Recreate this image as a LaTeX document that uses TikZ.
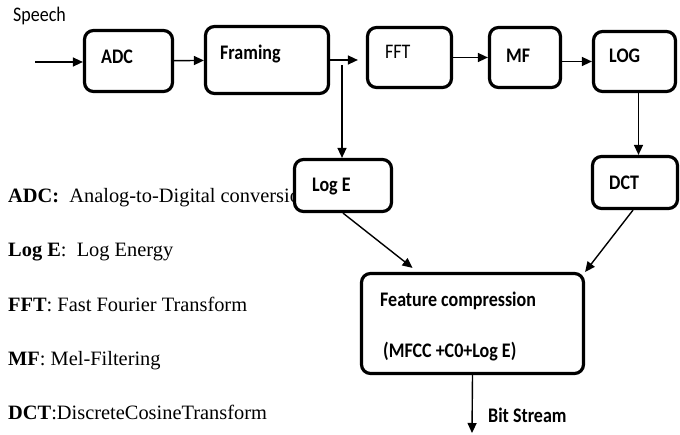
\documentclass[tikz,border=0pt]{standalone}
\usepackage{graphicx}
\usepackage{fontspec}
\setmainfont{Liberation Serif}
\newfontfamily\boxfont{Carlito}
\usetikzlibrary{arrows.meta}

% box labels are set slightly taller than the font's natural shape
\newcommand{\tallbox}[1]{\scalebox{1}[1.15]{#1}}

\begin{document}
\begin{tikzpicture}[x=1pt,y=-1pt,
  blk/.style={draw, line width=3.2pt, rounded corners=9pt, fill=white, inner sep=0pt},
  flow/.style={line width=1.4pt, -{Triangle[length=10pt,width=9pt]}},
  lbl/.style={font=\boxfont\bfseries\fontsize{18}{20}\selectfont, anchor=base west, inner sep=0pt},
  plain/.style={font=\boxfont\fontsize{18}{20}\selectfont, anchor=base west, inner sep=0pt},
  leg/.style={font=\fontsize{20.4}{22}\selectfont, anchor=base west, inner sep=0pt}]

\useasboundingbox (0,0) rectangle (680,435);

% glossary of abbreviations
\node[leg] (g1) at (8,203) {\textbf{ADC:}\ \ Analog-to-Digital conversion};
\node[leg] (g2) at (8,257) {\textbf{Log E}:\ \ Log Energy};
\node[leg] (g3) at (8,312) {\textbf{FFT}: Fast Fourier Transform};
\node[leg] (g4) at (8,366) {\textbf{MF}: Mel-Filtering};
\node[leg] (g5) at (8,420) {\textbf{DCT}:DiscreteCosineTransform};

% processing blocks
\node[blk, minimum width=88pt, minimum height=61pt] (adc) at (128.5,61) {};
\node[blk, minimum width=123pt, minimum height=67pt] (fram) at (267,60) {};
\node[blk, minimum width=84pt, minimum height=60pt] (fft) at (409.5,57.5) {};
\node[blk, minimum width=71pt, minimum height=60pt] (mf) at (525,57.5) {};
\node[blk, minimum width=82pt, minimum height=60pt] (log) at (634.5,61.5) {};
\node[blk, minimum width=97pt, minimum height=52pt] (loge) at (343,185.5) {};
\node[blk, minimum width=85pt, minimum height=52pt] (dct) at (635,182.5) {};
\node[blk, minimum width=222pt, minimum height=100pt] (fc) at (472.5,323.5) {};

% block labels
\node[plain] (tspeech) at (13,22) {\tallbox{Speech}};
\node[lbl] (tadc) at (101,64) {\tallbox{ADC}};
\node[lbl] (tfram) at (220,60) {\tallbox{Framing}};
\node[plain] (tfft) at (385,59) {\tallbox{FFT}};
\node[lbl] (tmf) at (506,63) {\tallbox{MF}};
\node[lbl] (tlog) at (609,63) {\tallbox{LOG}};
\node[lbl] (tloge) at (312,192) {\tallbox{Log E}};
\node[lbl] (tdct) at (609,190) {\tallbox{DCT}};
\node[lbl] (tfc1) at (380,307) {\tallbox{Feature compression}};
\node[lbl] (tfc2) at (383,358) {\tallbox{(MFCC +C0+Log E)}};
\node[lbl] (tbit) at (488,422) {\tallbox{Bit Stream}};

% connectors
\coordinate (src) at (35,62);
\coordinate (tap) at (342,65);
\coordinate (out) at (472,433);
\draw[flow] (src) -- (src -| adc.west);
\draw[flow] (adc) -- (fram);
\draw[flow] (fram.east) -- ([xshift=-8pt]fft.west |- fram.east);
\draw[flow] (fft) -- (mf);
\draw[flow] (mf.east |- log) -- (log.west);
\draw[flow] (tap) -- (tap |- loge.north);
\draw[flow] ([xshift=4pt]log.south) -- ([xshift=4pt]log.south |- dct.north);
\draw[flow] (loge.south) -- ([xshift=-60pt,yshift=4pt]fc.north);
\draw[flow] ([xshift=-2pt]dct.south) -- (fc.north east);
\draw[flow] (fc.south) -- (out);
\end{tikzpicture}
\end{document}
